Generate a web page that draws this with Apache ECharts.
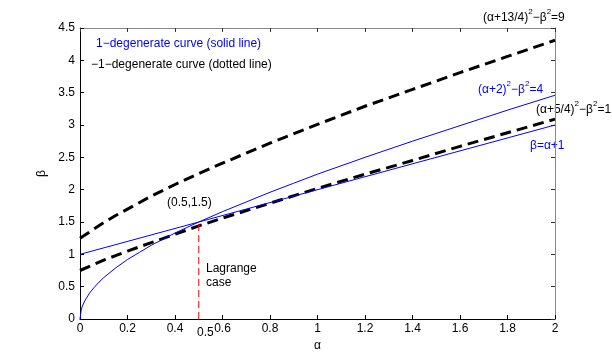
<!DOCTYPE html>
<html>
<head>
<meta charset="utf-8">
<script src="https://cdn.jsdelivr.net/npm/echarts@6/dist/echarts.min.js"></script>
<style>
  html, body { margin: 0; padding: 0; background: #fff; }
  #main { width: 612px; height: 360px; }
</style>
</head>
<body>
<div id="main"></div>
<script>
// points: [alpha, beta]
var curveSqrt = [[0, 0], [0.005, 0.14], [0.01, 0.2], [0.02, 0.28], [0.04, 0.4], [0.06, 0.49],
  [0.08, 0.57], [0.1, 0.64], [0.15, 0.79], [0.2, 0.92], [0.25, 1.03], [0.3, 1.14], [0.4, 1.33],
  [0.5, 1.5], [0.6, 1.66], [0.7, 1.81], [0.8, 1.96], [0.9, 2.1], [1.0, 2.24], [1.2, 2.5],
  [1.4, 2.75], [1.6, 2.99], [1.8, 3.23], [2.0, 3.46]];
var lineAlpha1 = [[0, 1], [2, 3]];
var dashUpper = [[0, 1.25], [0.05, 1.37], [0.1, 1.49], [0.15, 1.6], [0.2, 1.7], [0.3, 1.9],
  [0.4, 2.08], [0.5, 2.25], [0.6, 2.41], [0.8, 2.72], [1.0, 3.01], [1.2, 3.29], [1.4, 3.55],
  [1.6, 3.81], [1.8, 4.06], [2.0, 4.31]];
var dashLower = [[0, 0.75], [0.05, 0.83], [0.1, 0.91], [0.15, 0.98], [0.2, 1.05], [0.3, 1.18],
  [0.4, 1.31], [0.5, 1.44], [0.6, 1.56], [0.8, 1.79], [1.0, 2.02], [1.2, 2.24], [1.4, 2.45],
  [1.6, 2.67], [1.8, 2.88], [2.0, 3.09]];
var lagrange = [[0.5, 0], [0.5, 1.5]];

var font = 'Liberation Sans, Arial, sans-serif';
var chart = echarts.init(document.getElementById('main'));

function label(x, y, text, color) {
  return {
    type: 'text', left: x, top: y,
    style: { text: text, fill: color || '#000', font: '12px ' + font }
  };
}
// text with small raised "2"s, written as {s|2}
function supLabel(x, y, text, color) {
  return {
    type: 'text', left: x, top: y,
    style: {
      text: text, fill: color, font: '12px ' + font,
      rich: {
        n: { fontSize: 12, fontFamily: font, lineHeight: 16, verticalAlign: 'bottom', fill: color },
        s: { fontSize: 8, fontFamily: font, lineHeight: 16, verticalAlign: 'top', fill: color }
      }
    }
  };
}

function boxAxis(extra) {
  return Object.assign({
    type: 'value', min: 0,
    axisLabel: { show: false },
    axisTick: { show: true, inside: true, length: 4, lineStyle: { color: '#333' } },
    axisLine: { show: true, onZero: false, lineStyle: { color: '#888', width: 1 } },
    splitLine: { show: false }
  }, extra);
}

chart.setOption({
  animation: false,
  grid: { left: 80, right: 57, top: 28, bottom: 41 },
  xAxis: [{
    type: 'value', min: 0, max: 2, interval: 0.2,
    name: 'α', nameLocation: 'middle', nameGap: 20,
    nameTextStyle: { fontFamily: font, fontSize: 12, color: '#000' },
    axisLine: { show: true, onZero: false, lineStyle: { color: '#000' } },
    axisTick: { show: true, inside: true, length: 4, lineStyle: { color: '#000' } },
    axisLabel: { fontFamily: font, fontSize: 12, color: '#000', margin: 4 },
    splitLine: { show: false }
  }, boxAxis({ position: 'top', max: 2, interval: 0.2 })],
  yAxis: [{
    type: 'value', min: 0, max: 4.5, interval: 0.5,
    name: 'β', nameLocation: 'middle', nameGap: 23,
    nameTextStyle: { fontFamily: font, fontSize: 12, color: '#000' },
    axisLine: { show: true, onZero: false, lineStyle: { color: '#000' } },
    axisTick: { show: true, inside: true, length: 4, lineStyle: { color: '#000' } },
    axisLabel: { fontFamily: font, fontSize: 12, color: '#000', margin: 5 },
    splitLine: { show: false }
  }, boxAxis({ position: 'right', max: 4.5, interval: 0.5 })],
  series: [
    { type: 'line', data: dashUpper, showSymbol: false, lineStyle: { color: '#000', width: 3, type: [11, 6] } },
    { type: 'line', data: dashLower, showSymbol: false, lineStyle: { color: '#000', width: 3, type: [11, 6] } },
    { type: 'line', data: curveSqrt, showSymbol: false, lineStyle: { color: '#0000ff', width: 1 } },
    { type: 'line', data: lineAlpha1, showSymbol: false, lineStyle: { color: '#0000ff', width: 1 } },
    { type: 'line', data: lagrange, showSymbol: false, lineStyle: { color: '#ff0000', width: 1, type: [7, 4] } }
  ],
  graphic: [
    label(96, 38, '1−degenerate curve (solid line)', '#0000ff'),
    label(91, 59, '−1−degenerate curve (dotted line)', '#000'),
    supLabel(483, 8, '{n|(α+13/4)}{s|2}{n|−β}{s|2}{n|=9}', '#000'),
    supLabel(478, 80, '{n|(α+2)}{s|2}{n|−β}{s|2}{n|=4}', '#0000ff'),
    supLabel(536, 100, '{n|(α+5/4)}{s|2}{n|−β}{s|2}{n|=1}', '#000'),
    label(530, 140, 'β=α+1', '#0000ff'),
    label(167, 197, '(0.5,1.5)', '#000'),
    label(206, 263, 'Lagrange', '#000'),
    label(206, 277, 'case', '#000'),
    label(197, 327, '0.5', '#000')
  ]
});
</script>
</body>
</html>
